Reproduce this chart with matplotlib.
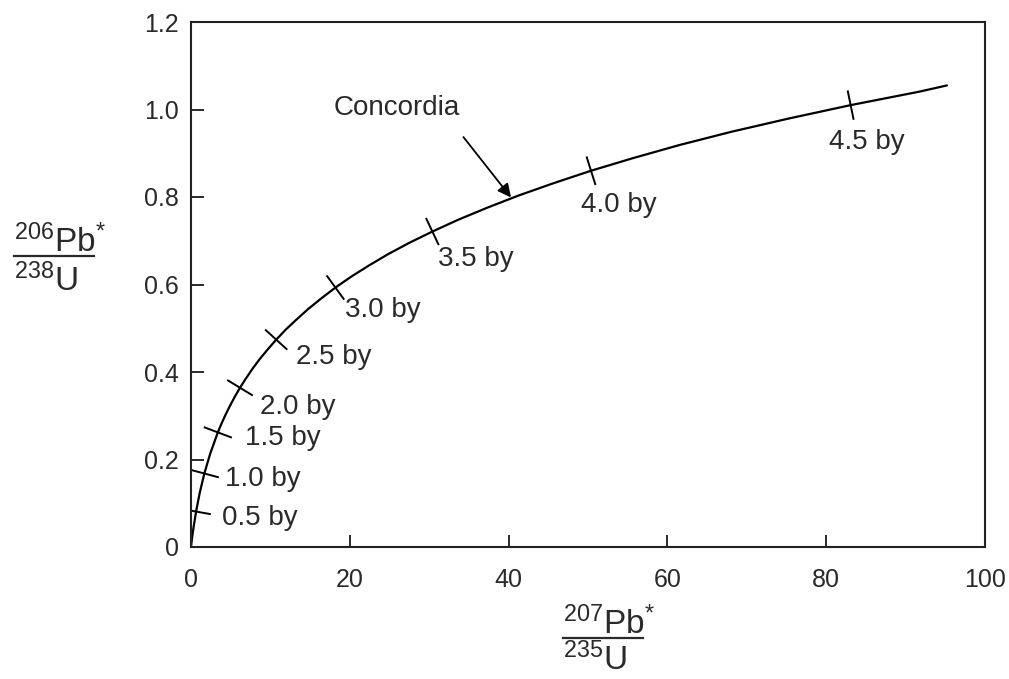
import numpy as np
import matplotlib
matplotlib.use("Agg")
import matplotlib.pyplot as plt
from matplotlib.lines import Line2D

plt.rcParams['font.family'] = ['Liberation Sans', 'DejaVu Sans']
plt.rcParams['mathtext.fontset'] = 'custom'
plt.rcParams['mathtext.rm'] = 'Liberation Sans'
plt.rcParams['mathtext.it'] = 'Liberation Sans'

# concordia curve (207Pb*/235U, 206Pb*/238U)
curve_x = [0.0, 0.10, 0.28, 0.64, 1.09, 1.68, 2.43, 3.38, 3.84, 4.34, 4.89, 5.50,
           6.17, 6.91, 7.73, 8.63, 9.63, 10.73, 11.94, 13.29, 14.76, 16.39,
           18.19, 20.18, 22.37, 24.79, 27.46, 30.40, 33.65, 37.24, 41.20, 45.57,
           50.38, 55.70, 61.56, 68.04, 75.19, 83.08, 91.79, 95.2]
curve_y = [0.0, 0.016, 0.040, 0.081, 0.123, 0.168, 0.214, 0.262, 0.282, 0.302, 0.322, 0.343,
           0.364, 0.385, 0.407, 0.429, 0.451, 0.474, 0.497, 0.520, 0.544, 0.568,
           0.593, 0.618, 0.643, 0.669, 0.695, 0.721, 0.748, 0.775, 0.803, 0.831,
           0.860, 0.889, 0.919, 0.949, 0.979, 1.010, 1.041, 1.055]

# age marks on the curve
age_labels = ['0.5 by', '1.0 by', '1.5 by', '2.0 by', '2.5 by',
              '3.0 by', '3.5 by', '4.0 by', '4.5 by']
age_x = [0.64, 1.68, 3.38, 6.17, 10.73, 18.19, 30.40, 50.38, 83.08]
age_y = [0.081, 0.168, 0.262, 0.364, 0.474, 0.593, 0.721, 0.860, 1.010]
# label offset from the mark, in pixels (right, down)
label_off = [(26, 6), (21, 5), (27, 6), (20, 19), (20, 17),
             (10, 22), (6, 27), (-10, 34), (-22, 37)]

txt = '#2a2a2a'
W, H = 1009, 679

fig = plt.figure(figsize=(W / 100, H / 100), dpi=100)
ax = fig.add_axes([191 / W, 1 - 547 / H, 794 / W, 525 / H])

ax.plot(curve_x, curve_y, color='black', lw=1.6, solid_capstyle='round')
ax.set_xlim(0, 100)
ax.set_ylim(0, 1.2)
ax.set_xticks([0, 20, 40, 60, 80, 100])
ax.set_yticks([0, 0.2, 0.4, 0.6, 0.8, 1.0, 1.2])
ax.set_yticklabels(['0', '0.2', '0.4', '0.6', '0.8', '1.0', '1.2'])
ax.tick_params(direction='in', length=9, width=1.4, labelsize=18, colors=txt)
ax.tick_params(axis='x', pad=15)
ax.tick_params(axis='y', pad=9)
for s in ax.spines.values():
    s.set_linewidth(1.5)
    s.set_color('#222222')

# short marks perpendicular to the curve, in pixel space
fig.canvas.draw()
pts = ax.transData.transform(np.column_stack([curve_x, curve_y]))
inv = ax.transData.inverted()
half = 14
for i in range(len(age_x)):
    p = ax.transData.transform((age_x[i], age_y[i]))
    j = int(np.argmin(np.abs(np.array(curve_x) - age_x[i])))
    d = pts[min(j + 1, len(pts) - 1)] - pts[max(j - 1, 0)]
    d = d / np.hypot(*d)
    n = np.array([-d[1], d[0]])
    a = inv.transform(p + n * half)
    b = inv.transform(p - n * half)
    ax.plot([a[0], b[0]], [a[1], b[1]], color='black', lw=1.4)
    dx, dy = label_off[i]
    ax.annotate(age_labels[i], (age_x[i], age_y[i]),
                xytext=(dx * 0.72, -dy * 0.72), textcoords='offset points',
                ha='left', va='center', fontsize=20, color=txt)

# Concordia label with arrow to the curve
ax.annotate('Concordia', xy=(40.3, 0.799), xytext=(25.9, 1.003),
            ha='center', va='center', fontsize=20, color=txt,
            arrowprops=dict(arrowstyle='-|>', color='black', lw=1.3,
                            mutation_scale=20, shrinkA=12, shrinkB=0,
                            relpos=(0.93, 0.0)))


def fraction(x0, base_num, line_y, line_x1, base_den, num, den):
    # stacked ratio label, left aligned, pixel positions
    fig.text(x0 / W, 1 - base_num / H, num, ha='left', va='baseline',
             fontsize=24, color=txt)
    fig.text(x0 / W, 1 - base_den / H, den, ha='left', va='baseline',
             fontsize=24, color=txt)
    fig.add_artist(Line2D([x0 / W, line_x1 / W], [1 - line_y / H, 1 - line_y / H],
                          transform=fig.transFigure, color=txt, lw=1.6))


fraction(14, 252, 256, 94, 291,
         r'$^{206}\mathrm{Pb}^{*}$', r'$^{238}\mathrm{U}$')
fraction(563, 634, 638, 643, 670,
         r'$^{207}\mathrm{Pb}^{*}$', r'$^{235}\mathrm{U}$')

fig.savefig('out.png', dpi=100)
